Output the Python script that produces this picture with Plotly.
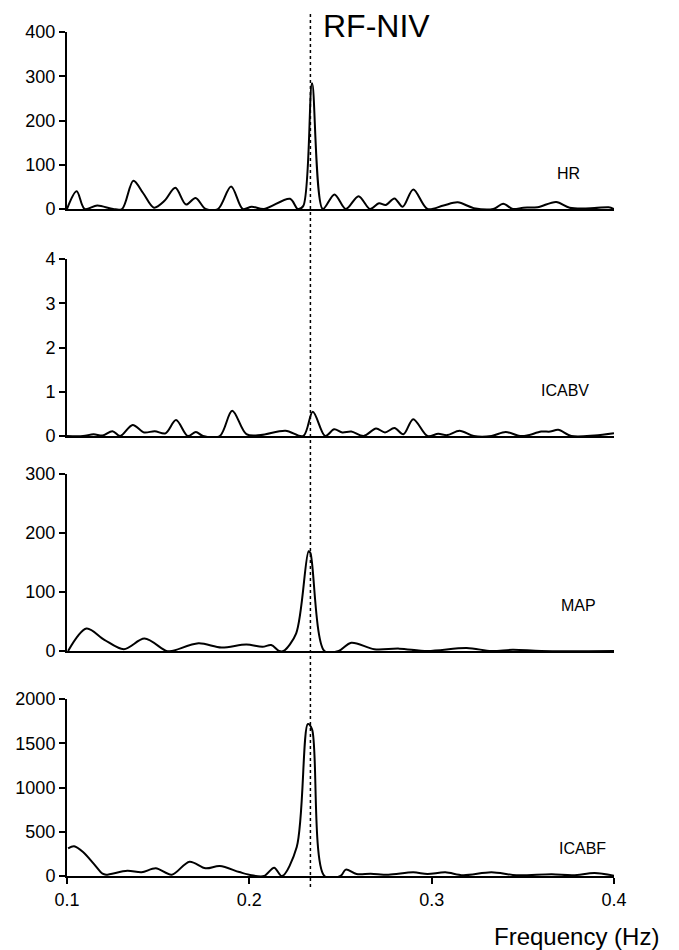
import plotly.graph_objects as go

# ---------------- data ----------------
hr_freq = [0.1000, 0.1053, 0.1097, 0.1166, 0.1253, 0.1302, 0.1364, 0.1419, 0.1477, 0.1536,
           0.1594, 0.1653, 0.1705, 0.1760, 0.1828, 0.1900, 0.1964, 0.2013, 0.2081, 0.2223,
           0.2266, 0.2296, 0.2344, 0.2403, 0.2467, 0.2529, 0.2599, 0.2662, 0.2711, 0.2748,
           0.2796, 0.2841, 0.2899, 0.2977, 0.3065, 0.3143, 0.3231, 0.3338, 0.3392, 0.3445,
           0.3503, 0.3581, 0.3683, 0.3757, 0.3893, 0.3971, 0.4000]
hr_power = [0, 40, 0, 8, 0, 0, 64, 35, 3, 19,
            48, 10, 25, 0, 0, 51, 0, 5, 0, 23,
            0, 7, 284, 0, 33, 0, 29, 0, 13, 9,
            24, 5, 44, 0, 8, 15, 2, 0, 12, 0,
            3, 4, 16, 3, 2, 4, 0]

icabv_freq = [0.1000, 0.1088, 0.1146, 0.1195, 0.1249, 0.1292, 0.1360, 0.1423, 0.1481, 0.1540,
              0.1598, 0.1662, 0.1707, 0.1746, 0.1838, 0.1906, 0.1984, 0.2062, 0.2198, 0.2296,
              0.2348, 0.2416, 0.2465, 0.2510, 0.2559, 0.2627, 0.2695, 0.2744, 0.2796, 0.2845,
              0.2899, 0.2977, 0.3036, 0.3085, 0.3153, 0.3231, 0.3328, 0.3406, 0.3484, 0.3523,
              0.3601, 0.3650, 0.3694, 0.3766, 0.3893, 0.4000]
icabv_power = [0, 0, 0.04, 0.01, 0.11, 0, 0.25, 0.08, 0.11, 0.06,
               0.36, 0, 0.09, 0, 0, 0.57, 0.04, 0.02, 0.12, 0,
               0.55, 0, 0.15, 0.08, 0.10, 0, 0.17, 0.08, 0.18, 0.04,
               0.38, 0, 0.05, 0.02, 0.12, 0, 0, 0.09, 0, 0.01,
               0.10, 0.10, 0.14, 0, 0.01, 0.06]

map_freq = [0.1006, 0.1107, 0.1205, 0.1312, 0.1425, 0.1545, 0.1575, 0.1721, 0.1847, 0.1984,
            0.2072, 0.2120, 0.2163, 0.2188, 0.2257, 0.2325, 0.2335, 0.2412, 0.2490, 0.2559,
            0.2685, 0.2822, 0.2977, 0.3192, 0.3328, 0.3445, 0.3601, 0.4000]
map_power = [0, 38, 19, 3, 21, 0, 0, 13, 6, 11,
             7, 10, 0, 0, 30, 169, 166, 0, 0, 14,
             3, 4, 0, 5, 0, 2, 0, 0]

icabf_freq = [0.1006, 0.1039, 0.1088, 0.1146, 0.1195, 0.1214, 0.1331, 0.1409, 0.1487, 0.1575,
              0.1672, 0.1760, 0.1838, 0.1945, 0.2013, 0.2081, 0.2136, 0.2179, 0.2260, 0.2321,
              0.2344, 0.2412, 0.2500, 0.2529, 0.2588, 0.2666, 0.2763, 0.2899, 0.2977, 0.3075,
              0.3172, 0.3328, 0.3464, 0.3659, 0.3776, 0.3893, 0.4000]
icabf_power = [313, 336, 272, 140, 26, 15, 60, 42, 87, 15,
               162, 87, 113, 45, 8, 0, 94, 0, 328, 1717,
               1657, 0, 0, 72, 23, 26, 15, 42, 23, 42,
               8, 42, 8, 19, 8, 34, 4]

panel_names = ["HR", "ICABV", "MAP", "ICABF"]
y_max = [400, 4, 300, 2000]
y_dtick = [100, 1, 100, 500]
x_ticks = [0.1, 0.2, 0.3, 0.4]
resp_freq = 0.2335
title_text = "RF-NIV"
x_title = "Frequency (Hz)"

series = [(hr_freq, hr_power), (icabv_freq, icabv_power),
          (map_freq, map_power), (icabf_freq, icabf_power)]

# ---------------- layout geometry ----------------
# target positions are given in page pixels; the page body adds an 8px offset
OFF = 8
W, H = 679 - OFF, 950 - OFF
L_PAGE, R_PAGE = 67, 614
ML = L_PAGE - OFF
MR = W - (R_PAGE - OFF)
PW = W - ML - MR

panel_px = [(32, 209), (259, 436), (474, 651), (699, 876)]
label_px = [(568, 174), (565, 390), (578, 605), (582, 848)]


def px_x(px):
    return (px - OFF - ML) / PW


def px_y(py):
    return 1 - (py - OFF) / H


FONT = "Arial, Liberation Sans, sans-serif"
TICK_SIZE = 18

fig = go.Figure()
for i, (fx, py) in enumerate(series):
    n = i + 1
    fig.add_trace(go.Scatter(
        x=fx, y=py, mode="lines",
        line=dict(color="black", width=2, shape="spline", smoothing=0.9),
        xaxis=f"x{n}" if n > 1 else "x", yaxis=f"y{n}" if n > 1 else "y",
        showlegend=False, hoverinfo="skip"))

layout = dict(
    width=W, height=H,
    margin=dict(l=ML, r=MR, t=0, b=0, autoexpand=False),
    paper_bgcolor="white", plot_bgcolor="white",
    font=dict(family=FONT, size=TICK_SIZE, color="black"),
)

for i in range(4):
    n = i + 1
    top, bot = panel_px[i]
    xa = "xaxis" if n == 1 else f"xaxis{n}"
    ya = "yaxis" if n == 1 else f"yaxis{n}"
    last = (n == 4)
    layout[xa] = dict(
        domain=[0, 1], range=[0.1, 0.4], anchor="y" if n == 1 else f"y{n}",
        showgrid=False, zeroline=False, showline=True, linecolor="black", linewidth=2,
        ticks="outside" if last else "", ticklen=6, tickwidth=2, tickcolor="black",
        tickvals=x_ticks if last else [], ticktext=[str(t) for t in x_ticks] if last else [],
        showticklabels=last, tickfont=dict(size=TICK_SIZE, family=FONT),
    )
    layout[ya] = dict(
        domain=[px_y(bot), px_y(top)], range=[0, y_max[i]],
        anchor="x" if n == 1 else f"x{n}",
        showgrid=False, zeroline=False, showline=True, linecolor="black", linewidth=2,
        ticks="outside", ticklen=6, tickwidth=2, tickcolor="black",
        dtick=y_dtick[i], tick0=0, tickfont=dict(size=TICK_SIZE, family=FONT),
    )

fig.update_layout(**layout)

# dashed vertical line at the respiratory frequency
fig.add_shape(type="line", xref="x4", yref="paper",
              x0=resp_freq, x1=resp_freq, y0=px_y(887), y1=px_y(12),
              line=dict(color="black", width=1.5, dash="dot"))

annotations = [
    dict(text=title_text, x=px_x(321), y=px_y(26), xref="paper", yref="paper",
         xanchor="left", yanchor="middle", showarrow=False,
         font=dict(size=32, family=FONT, color="black")),
    dict(text=x_title, x=px_x(661), y=px_y(936), xref="paper", yref="paper",
         xanchor="right", yanchor="middle", showarrow=False,
         font=dict(size=24, family=FONT, color="black")),
]
for name, (lx, ly) in zip(panel_names, label_px):
    annotations.append(dict(text=name, x=px_x(lx), y=px_y(ly), xref="paper", yref="paper",
                            xanchor="center", yanchor="middle", showarrow=False,
                            font=dict(size=16, family=FONT, color="black")))
fig.update_layout(annotations=annotations)

fig.write_html("out.html")
